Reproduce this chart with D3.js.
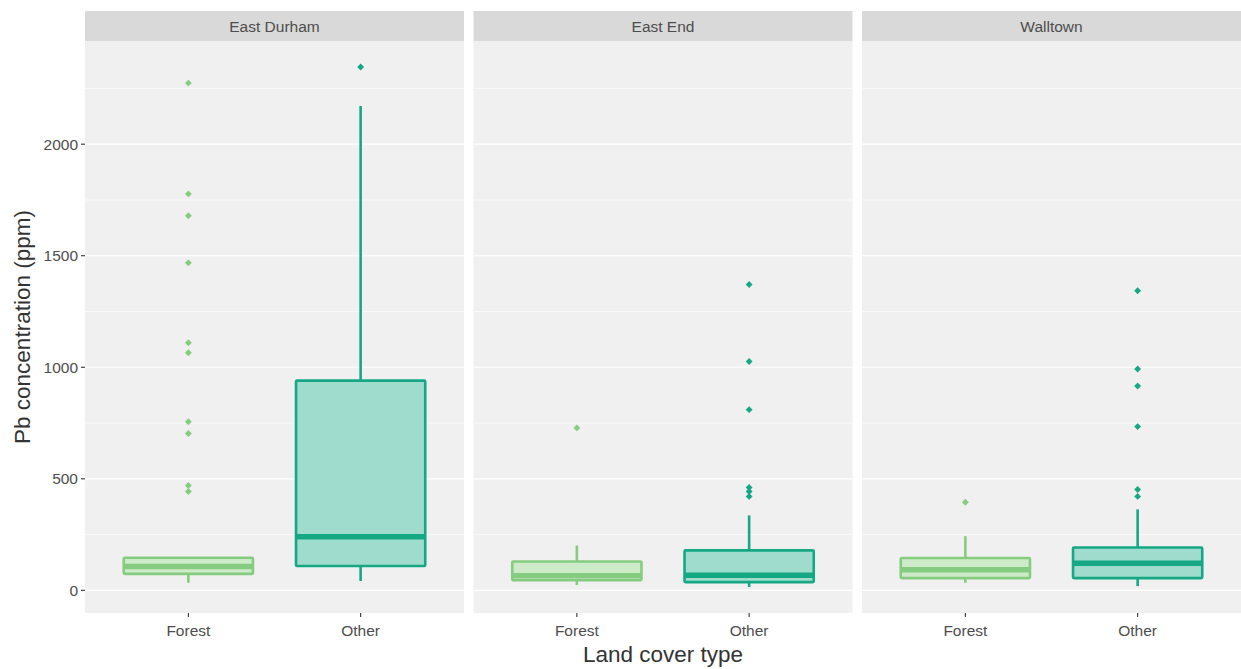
<!DOCTYPE html>
<html><head><meta charset="utf-8">
<script src="https://cdn.jsdelivr.net/npm/d3@7"></script>
<style>body{margin:0;background:#fff}svg{display:block}</style>
</head><body><svg id="c" width="1241" height="669"></svg>
<script>
const regions = ["East Durham", "East End", "Walltown"];
const covers = ["Forest", "Other"];
const yTicks = [0, 500, 1000, 1500, 2000];
const yMinor = [250, 750, 1250, 1750, 2250];
// order: [region][cover]
const lowerWhisker = [[34, 42], [24, 15], [34, 19]];
const q1 = [[74, 109], [45, 37], [55, 55]];
const median = [[107, 240], [65, 68], [92, 121]];
const q3 = [[146, 940], [129, 179], [145, 192]];
const upperWhisker = [[146, 2171], [201, 336], [243, 363]];
const outliers = [
  [[2274, 1777, 1679, 1468, 1110, 1065, 756, 703, 470, 443], [2346]],
  [[728], [1371, 1026, 810, 461, 443, 421]],
  [[395], [1343, 992, 916, 734, 452, 421]]
];
const strokeCol = {Forest: "#86cc80", Other: "#14a884"};
const fillCol = {Forest: "#cdebc9", Other: "#a0dccd"};

(function () {
const svg = d3.select("#c");
const panelX = [85, 473.5, 862];
const panelW = 379;
const pTop = 41, pBottom = 613, stripTop = 11;

let allVals = [];
regions.forEach((r, i) => covers.forEach((c, j) => {
  allVals.push(lowerWhisker[i][j], upperWhisker[i][j], ...outliers[i][j]);
}));
const lo = d3.min(allVals), hi = d3.max(allVals), pad = (hi - lo) * 0.05;
const y = d3.scaleLinear().domain([lo - pad, hi + pad]).range([pBottom, pTop]);

const font = "'Liberation Sans', Arial, sans-serif";
const smallSize = 15.5, titleSize = 22.5;

regions.forEach((r, i) => {
  const x0 = panelX[i];
  const g = svg.append("g").attr("transform", `translate(${x0},0)`);
  const xs = d3.scaleLinear().domain([0.4, 2.6]).range([0, panelW]);
  const pos = c => xs(covers.indexOf(c) + 1);
  const unit = xs(1) - xs(0);
  g.append("rect").attr("x", 0).attr("y", pTop).attr("width", panelW).attr("height", pBottom - pTop).attr("fill", "#f0f0f0");
  g.append("rect").attr("x", 0).attr("y", stripTop).attr("width", panelW).attr("height", pTop - stripTop).attr("fill", "#d9d9d9");
  g.append("text").attr("x", panelW / 2).attr("y", (stripTop + pTop) / 2 + 1).attr("dy", "0.35em")
    .attr("text-anchor", "middle").attr("font-family", font).attr("font-size", smallSize).attr("fill", "#4d4d4d").text(r);
  yMinor.forEach(v => g.append("line").attr("x1", 0).attr("x2", panelW).attr("y1", y(v)).attr("y2", y(v)).attr("stroke", "#fff").attr("stroke-width", 0.6));
  yTicks.forEach(v => g.append("line").attr("x1", 0).attr("x2", panelW).attr("y1", y(v)).attr("y2", y(v)).attr("stroke", "#fff").attr("stroke-width", 1.2));

  covers.forEach((c, j) => {
    const cx = pos(c), bw = unit * 0.75;
    const col = strokeCol[c];
    g.append("line").attr("x1", cx).attr("x2", cx).attr("y1", y(upperWhisker[i][j])).attr("y2", y(q3[i][j])).attr("stroke", col).attr("stroke-width", 2.6);
    g.append("line").attr("x1", cx).attr("x2", cx).attr("y1", y(q1[i][j])).attr("y2", y(lowerWhisker[i][j])).attr("stroke", col).attr("stroke-width", 2.6);
    g.append("rect").attr("x", cx - bw / 2).attr("y", y(q3[i][j])).attr("width", bw).attr("height", y(q1[i][j]) - y(q3[i][j]))
      .attr("fill", fillCol[c]).attr("stroke", col).attr("stroke-width", 2.6).attr("rx", 1);
    g.append("line").attr("x1", cx - bw / 2).attr("x2", cx + bw / 2).attr("y1", y(median[i][j])).attr("y2", y(median[i][j])).attr("stroke", col).attr("stroke-width", 5.5);
    g.selectAll(null).data(outliers[i][j]).enter().append("path")
      .attr("d", d3.symbol(d3.symbolDiamond2, 30))
      .attr("transform", d => `translate(${cx},${y(d)})`).attr("fill", col);
  });

  covers.forEach(c => {
    g.append("line").attr("x1", pos(c)).attr("x2", pos(c)).attr("y1", pBottom).attr("y2", pBottom + 4).attr("stroke", "#333").attr("stroke-width", 1.1);
    g.append("text").attr("x", pos(c)).attr("y", pBottom + 18).attr("dy", "0.35em").attr("text-anchor", "middle")
      .attr("font-family", font).attr("font-size", smallSize).attr("fill", "#4d4d4d").text(c);
  });
});

const ya = svg.append("g");
yTicks.forEach(v => {
  ya.append("line").attr("x1", 81).attr("x2", 85).attr("y1", y(v)).attr("y2", y(v)).attr("stroke", "#333").attr("stroke-width", 1.1);
  ya.append("text").attr("x", 78).attr("y", y(v)).attr("dy", "0.35em").attr("text-anchor", "end")
    .attr("font-family", font).attr("font-size", smallSize).attr("fill", "#4d4d4d").text(v);
});
svg.append("text").attr("transform", `translate(22,${(pTop + pBottom) / 2}) rotate(-90)`).attr("dy", "0.35em")
  .attr("text-anchor", "middle").attr("font-family", font).attr("font-size", titleSize).attr("fill", "#333").text("Pb concentration (ppm)");
svg.append("text").attr("x", (85 + 1241) / 2).attr("y", 654).attr("dy", "0.35em")
  .attr("text-anchor", "middle").attr("font-family", font).attr("font-size", titleSize).attr("fill", "#333").text("Land cover type");
})();
</script></body></html>
